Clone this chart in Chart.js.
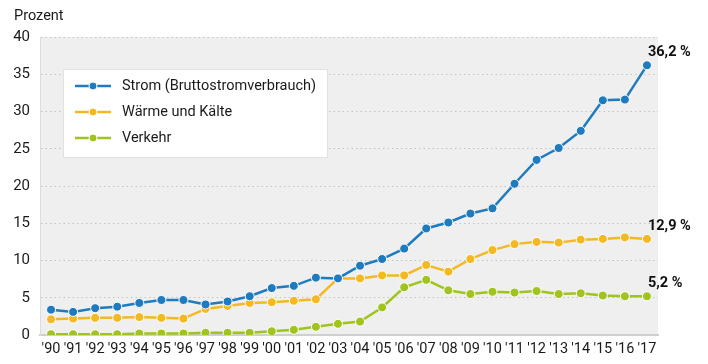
<!DOCTYPE html>
<html>
<head>
<meta charset="utf-8">
<script src="https://cdn.jsdelivr.net/npm/chart.js@4"></script>
<style>
  html, body { margin: 0; padding: 0; background: #fff; }
  #wrap { width: 708px; height: 364px; }
</style>
</head>
<body>
<div id="wrap"><canvas id="eeChart"></canvas></div>
<script>
const years = ["'90","'91","'92","'93","'94","'95","'96","'97","'98","'99","'00","'01","'02","'03",
  "'04","'05","'06","'07","'08","'09","'10","'11","'12","'13","'14","'15","'16","'17"];

const strom = [3.4, 3.1, 3.6, 3.8, 4.3, 4.7, 4.7, 4.1, 4.5, 5.2, 6.3, 6.6, 7.7, 7.6,
  9.3, 10.2, 11.6, 14.3, 15.1, 16.3, 17.0, 20.3, 23.5, 25.1, 27.4, 31.5, 31.6, 36.2];
const waerme = [2.1, 2.2, 2.3, 2.3, 2.4, 2.3, 2.2, 3.5, 3.9, 4.3, 4.4, 4.6, 4.8, 7.6,
  7.6, 8.0, 8.0, 9.4, 8.5, 10.2, 11.4, 12.2, 12.5, 12.4, 12.8, 12.9, 13.1, 12.9];
const verkehr = [0.1, 0.1, 0.1, 0.1, 0.2, 0.2, 0.2, 0.3, 0.3, 0.3, 0.5, 0.7, 1.1, 1.5,
  1.8, 3.7, 6.4, 7.4, 6.0, 5.5, 5.8, 5.7, 5.9, 5.5, 5.6, 5.3, 5.2, 5.2];

const seriesLabels = ["Strom (Bruttostromverbrauch)", "Wärme und Kälte", "Verkehr"];
const seriesColors = ["#1f7bbf", "#f4b823", "#a0c41d"];
const endLabels = ["36,2 %", "12,9 %", "5,2 %"];

const FONT = "Roboto, 'Noto Sans', sans-serif";

function makeSet(i, data) {
  return {
    label: seriesLabels[i],
    data: data,
    borderColor: seriesColors[i],
    backgroundColor: seriesColors[i],
    borderWidth: 2.5,
    pointRadius: 4.5,
    pointBorderColor: "#fff",
    pointBorderWidth: 1,
    pointHoverRadius: 4.5,
    tension: 0,
  };
}

// grey plot background
const plotBg = {
  id: "plotBg",
  beforeDraw(chart) {
    const { ctx, chartArea: a } = chart;
    ctx.save();
    ctx.fillStyle = "#efefef";
    ctx.fillRect(a.left, a.top, a.right - a.left, a.bottom - a.top);
    ctx.restore();
  },
};

// unit title, boxed legend and end labels
const extras = {
  id: "extras",
  afterDatasetsDraw(chart) {
    const ctx = chart.ctx;
    ctx.save();
    ctx.fillStyle = "#1a1a1a";
    ctx.font = "14.5px " + FONT;
    ctx.textAlign = "left";
    ctx.textBaseline = "middle";
    ctx.fillText("Prozent", 14, 16);

    // legend box
    ctx.fillStyle = "#fff";
    ctx.fillRect(63, 69, 264, 88);
    ctx.strokeStyle = "#e2e2e2";
    ctx.lineWidth = 1;
    ctx.strokeRect(63.5, 69.5, 264, 88);
    seriesLabels.forEach((lab, i) => {
      const y = 86 + i * 26;
      ctx.strokeStyle = seriesColors[i];
      ctx.lineWidth = 2.5;
      ctx.beginPath();
      ctx.moveTo(75, y);
      ctx.lineTo(111, y);
      ctx.stroke();
      ctx.beginPath();
      ctx.arc(93, y, 4, 0, Math.PI * 2);
      ctx.fillStyle = seriesColors[i];
      ctx.fill();
      ctx.strokeStyle = "#fff";
      ctx.lineWidth = 1;
      ctx.stroke();
      ctx.fillStyle = "#1a1a1a";
      ctx.font = "14.5px " + FONT;
      ctx.fillText(lab, 122, y);
    });

    // end labels
    ctx.font = "bold 14.5px " + FONT;
    ctx.fillStyle = "#111";
    chart.data.datasets.forEach((ds, i) => {
      const pts = chart.getDatasetMeta(i).data;
      const p = pts[pts.length - 1];
      ctx.fillText(endLabels[i], p.x + 1, p.y - 13);
    });
    ctx.restore();
  },
};

new Chart(document.getElementById("eeChart"), {
  type: "line",
  data: {
    labels: years,
    datasets: [makeSet(0, strom), makeSet(1, waerme), makeSet(2, verkehr)],
  },
  options: {
    responsive: true,
    maintainAspectRatio: false,
    animation: false,
    layout: { padding: { top: 37, right: 50, left: 0, bottom: 0 } },
    plugins: {
      legend: { display: false },
      tooltip: { enabled: false },
    },
    scales: {
      x: {
        offset: true,
        grid: { display: false, drawTicks: false },
        border: { display: true, color: "#cfcfcf", width: 2 },
        ticks: {
          autoSkip: false,
          maxRotation: 0,
          padding: 6,
          color: "#1a1a1a",
          font: { family: FONT, size: 14.5 },
        },
        afterFit(scale) { scale.height = 29; },
      },
      y: {
        min: 0,
        max: 40,
        ticks: {
          stepSize: 5,
          padding: 10,
          color: "#1a1a1a",
          font: { family: FONT, size: 15 },
        },
        grid: { color: "#c4c4c4", drawTicks: false, lineWidth: 1 },
        border: { display: true, color: "#dcdcdc", dash: [1.5, 3] },
        afterFit(scale) { scale.width = 40; },
      },
    },
  },
  plugins: [plotBg, extras],
});
</script>
</body>
</html>
